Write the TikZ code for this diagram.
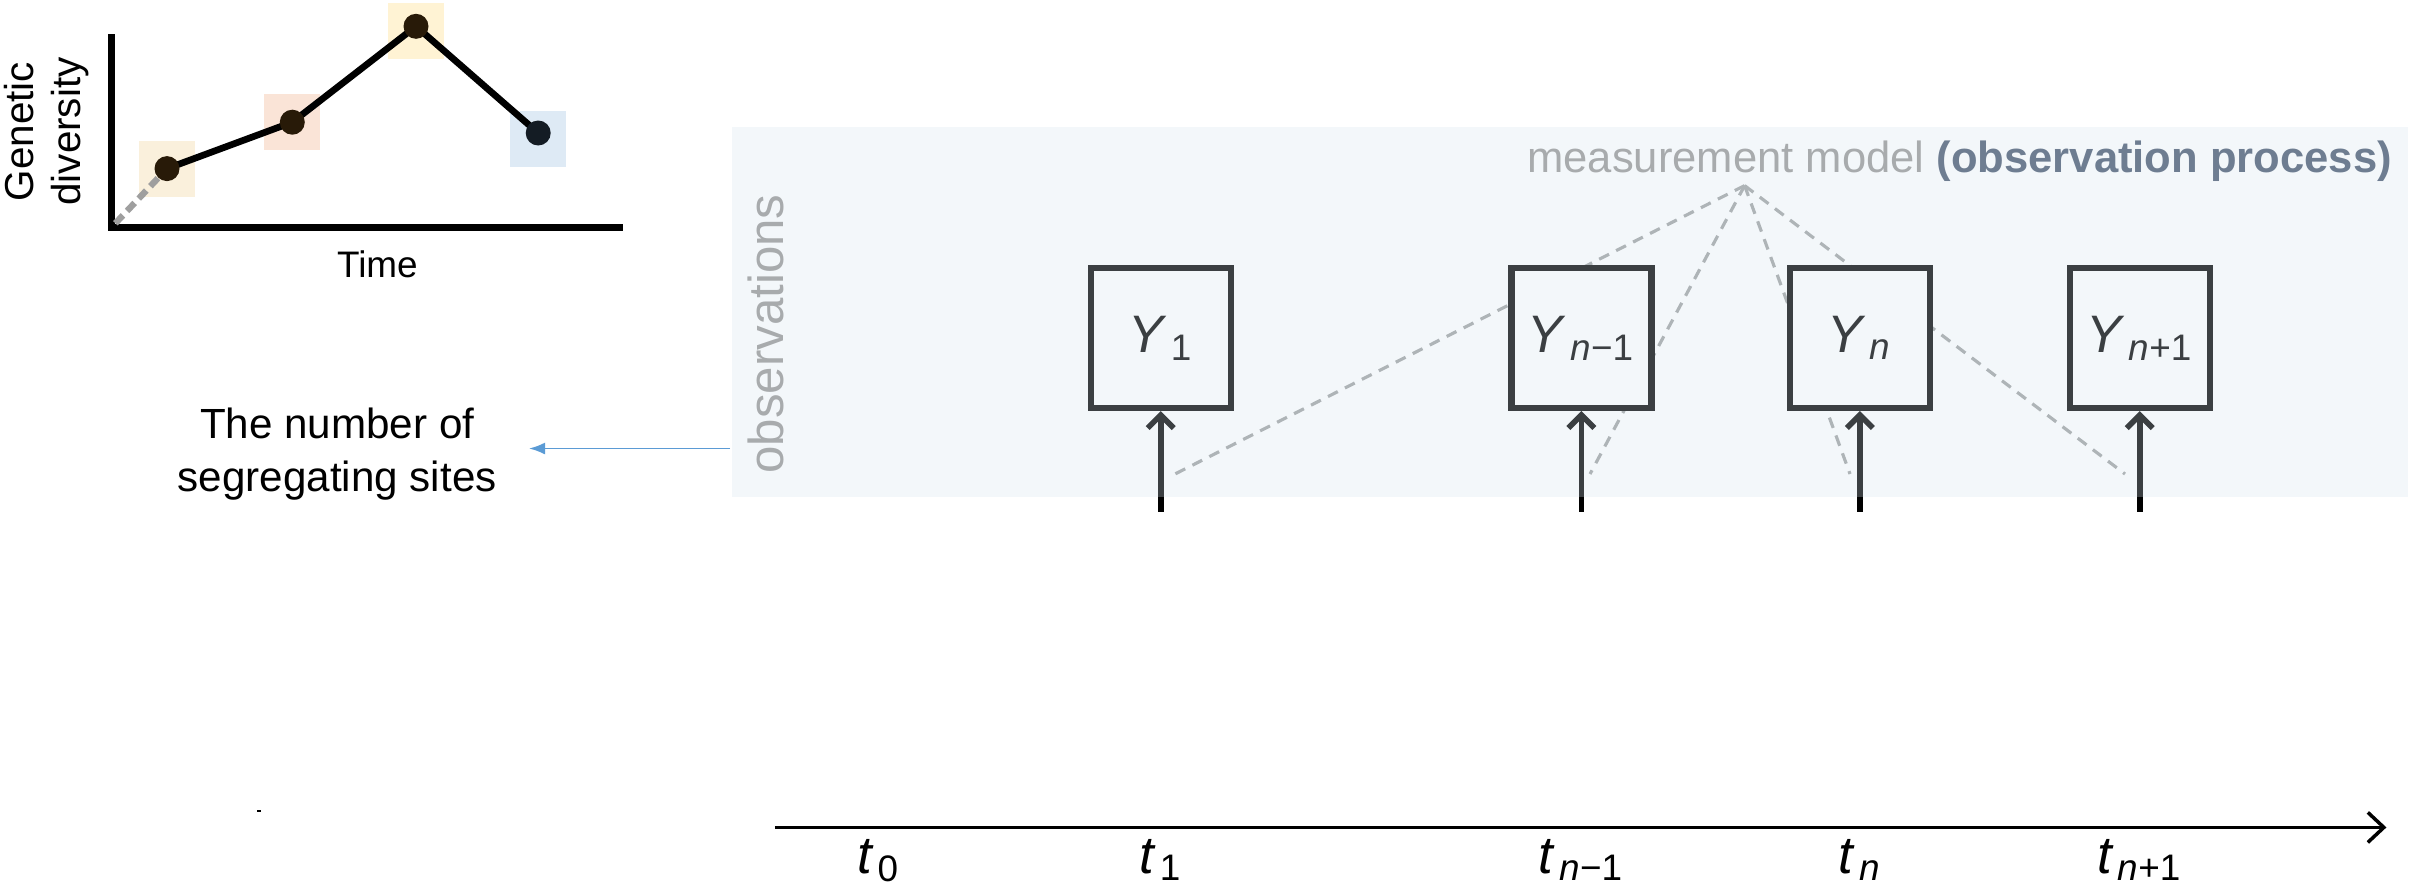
\documentclass[tikz,border=0pt]{standalone}
\usepackage{fontspec}
\setmainfont{Liberation Sans}
\usepackage{xcolor}
\usetikzlibrary{arrows.meta, calc, math, positioning}
\definecolor{panelblue}{RGB}{213,227,238}
\definecolor{labelgray}{RGB}{168,171,173}
\definecolor{procgray}{RGB}{110,125,145}
\definecolor{dashgray}{RGB}{160,162,162}
\definecolor{segblue}{RGB}{91,155,213}
\definecolor{sqbeige}{RGB}{250,240,220}
\definecolor{sqpeach}{RGB}{250,228,215}
\definecolor{sqyellow}{RGB}{255,243,212}
\definecolor{sqblue}{RGB}{222,234,245}
\definecolor{dotbrown}{RGB}{40,26,8}
\definecolor{dotnavy}{RGB}{20,28,36}
\newcommand{\lowsub}[1]{\kern0.08em\textsubscript{#1}}

\tikzset{
  obsbox/.style={draw=black, fill=white, line width=1.8pt, minimum size=1.4cm, inner sep=0pt, font=\fontsize{15}{17}\selectfont},
  obsarrow/.style={-{Straight Barb[length=1.3mm,width=2.6mm]}, line width=1.6pt},
  modeldash/.style={dashgray, dash pattern=on 1.1mm off 0.8mm, line width=0.9pt},
  tlabel/.style={anchor=base, font=\fontsize{15}{17}\selectfont},
  hilite/.style={minimum size=0.56cm, inner sep=0pt},
}

\begin{document}
\begin{tikzpicture}
\tikzmath{
\yb=5.471;
\ya=3.731;
\yd=4.11;
}
\useasboundingbox (0,0) rectangle (24.25,8.85);

% small diversity sketch
\coordinate (O) at (1.114,6.577);
\coordinate (D1) at (1.670,7.164);
\coordinate (D2) at (2.923,7.628);
\coordinate (D3) at (4.160,8.587);
\coordinate (D4) at (5.382,7.520);
\node[hilite, fill=sqbeige] (s1) at (D1) {};
\node[hilite, fill=sqpeach] (s2) at (D2) {};
\node[hilite, fill=sqyellow] (s3) at ($(D3)+(0,-0.05)$) {};
\node[hilite, fill=sqblue] (s4) at ($(D4)+(0,-0.06)$) {};
\draw[line width=2pt] (1.114,8.51) -- (O) -- (6.233,6.577);
\draw[gray!75, line width=1.8pt, dash pattern=on 1.1mm off 0.6mm] ($(O)+(0.04,0.04)$) -- (D1);
\draw[line width=1.9pt] (D1) -- (D2) -- (D3) -- (D4);
\fill[dotbrown] (D1) circle(0.125);
\fill[dotbrown] (D2) circle(0.125);
\fill[dotbrown] (D3) circle(0.125);
\fill[dotnavy] (D4) circle(0.125);
\node[rotate=90, align=center, font=\fontsize{11.5}{13.5}\selectfont] (gd) at (0.464,7.535) {Genetic\\diversity};
\node[font=\fontsize{10.5}{12}\selectfont] (time) at (3.774,6.205) {Time};

% measurement model lines
\coordinate (apex) at (17.446,6.994);
\coordinate (f1) at (11.75,\yd);
\coordinate (f2) at (15.90,\yd);
\coordinate (f3) at (18.50,\yd);
\coordinate (f4) at (21.25,\yd);
\draw[modeldash] (apex) -- (f1);
\draw[modeldash] (apex) -- (f2);
\draw[modeldash] (apex) -- (f3);
\draw[modeldash] (apex) -- (f4);

% observed boxes
\node[obsbox] (y1) at (11.607,\yb) {\textit{Y}\lowsub{1}};
\node[obsbox] (ynm) at (15.814,\yb) {\textit{Y}\lowsub{\textit{n}−1}};
\node[obsbox] (yn) at (18.598,\yb) {\textit{Y}\lowsub{\textit{n}}};
\node[obsbox] (ynp) at (21.397,\yb) {\textit{Y}\lowsub{\textit{n}+1}};

\coordinate (a1) at (11.607,\ya);
\coordinate (anm) at (15.814,\ya);
\coordinate (an) at (18.598,\ya);
\coordinate (anp) at (21.397,\ya);
\draw[obsarrow] (a1) -- (y1);
\draw[obsarrow] (anm) -- (ynm);
\draw[obsarrow] (an) -- (yn);
\draw[obsarrow] (anp) -- (ynp);

% observation panel (tints what lies under it)
\fill[panelblue, fill opacity=0.28] (7.315,3.885) rectangle (24.08,7.582);
\node[rotate=90, labelgray, font=\fontsize{14}{16}\selectfont] (obs) at (7.656,5.509) {observations};
\node[anchor=east, inner sep=0pt, font=\fontsize{12.4}{14}\selectfont] (mm) at (23.926,7.24)
  {\textcolor{labelgray}{measurement model} \textcolor{procgray}{\textbf{(observation process)}}};

% left label
\node[align=center, font=\fontsize{12}{15}\selectfont] (seg) at (3.372,4.31) {The number of\\segregating sites};
\coordinate (pw) at (7.30,4.365);
\draw[segblue, -{Latex[length=1.6mm,width=1.2mm]}, line width=0.5pt, shorten >=2mm] (pw) -- (seg.east |- pw);
\draw[line width=0.5pt] (2.57,0.74) -- (2.61,0.74);

% time axis
\coordinate (ts) at (7.749,0.576);
\coordinate (te) at (23.864,0.576);
\draw[line width=1pt, -{Straight Barb[length=1.6mm,width=3mm]}] (ts) -- (te);
\node[tlabel] (t0) at (8.785,0.12) {\textit{t}\lowsub{0}};
\node[tlabel] (t1) at (11.607,0.12) {\textit{t}\lowsub{1}};
\node[tlabel] (tnm) at (15.814,0.12) {\textit{t}\lowsub{\textit{n}−1}};
\node[tlabel] (tn) at (18.598,0.12) {\textit{t}\lowsub{\textit{n}}};
\node[tlabel] (tnp) at (21.397,0.12) {\textit{t}\lowsub{\textit{n}+1}};
\end{tikzpicture}
\end{document}
